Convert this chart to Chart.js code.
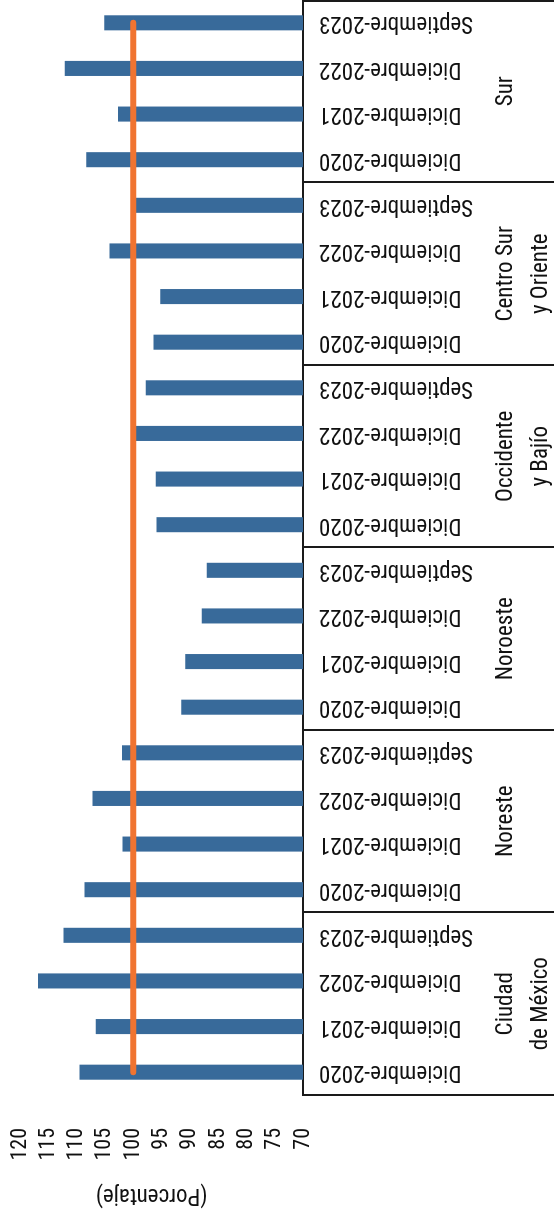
<!DOCTYPE html>
<html>
<head>
<meta charset="utf-8">
<script src="https://cdn.jsdelivr.net/npm/chart.js@4.4.0/dist/chart.umd.min.js"></script>
<style>
html,body{margin:0;padding:0;background:#fff}
#hoja{position:relative;width:554px;height:1216px;overflow:hidden;background:#fff}
#giro{position:absolute;left:0;top:0;width:1216px;height:554px;transform-origin:0 0;transform:translateY(1216px) rotate(-90deg)}
</style>
</head>
<body>
<div id="hoja"><div id="giro"><canvas id="grafico" width="1216" height="554"></canvas></div></div>
<script>

const regiones=[['Ciudad','de México'],['Noreste'],['Noroeste'],['Occidente','y Bajío'],['Centro Sur','y Oriente'],['Sur']]
const periodos=['Diciembre-2020','Diciembre-2021','Diciembre-2022','Septiembre-2023']

const cdmx=[109.5,106.6,116.8,112.3]
const noreste=[108.6,101.9,107.2,102.0]
const noroeste=[91.5,90.8,87.9,87.0]
const occidente=[95.9,96.0,99.8,97.8]
const centroSur=[96.4,95.2,104.2,99.7]
const sur=[108.3,102.7,112.1,105.1]

const referencia=100

const ejeMin=70
const ejeMax=120
const ejePaso=5
const tituloEje='(Porcentaje)'

const fuente="'Roboto Condensed','Liberation Sans Narrow',sans-serif"

let etiquetas=regiones.flatMap(()=>periodos)
let valores=[cdmx,noreste,noroeste,occidente,centroSur,sur].flat()
let lineaMeta=etiquetas.map(()=>referencia)

const grupos={
id:'grupos',
afterDraw(chart){
let ctx=chart.ctx
let x=chart.scales.x
let area=chart.chartArea
let paso=x.getPixelForValue(1)-x.getPixelForValue(0)
let n=periodos.length

ctx.save()
ctx.strokeStyle='#1a1a1a'
ctx.lineWidth=2
for(let g=0;g<=regiones.length;g++){
let px=Math.round(x.getPixelForValue(g*n)-paso/2)
px=Math.min(px,chart.width-1)
ctx.beginPath()
ctx.moveTo(px,area.bottom)
ctx.lineTo(px,chart.height)
ctx.stroke()
}

ctx.fillStyle='#111'
ctx.font='23px '+fuente
ctx.textAlign='center'
ctx.textBaseline='alphabetic'
regiones.forEach((r,g)=>{
let cx=(x.getPixelForValue(g*n)+x.getPixelForValue(g*n+n-1))/2
r.forEach((t,i)=>ctx.fillText(t,cx,512+i*35))
})

ctx.font='23px '+fuente
ctx.translate(21,(area.top+area.bottom)/2-10)
ctx.rotate(-Math.PI/2)
ctx.textBaseline='middle'
ctx.fillText(tituloEje,0,0)
ctx.restore()
}
}

new Chart(document.getElementById('grafico'),{
data:{
labels:etiquetas,
datasets:[
{
type:'line',
data:lineaMeta,
borderColor:'#f07431',
borderWidth:6,
borderCapStyle:'round',
pointRadius:0,
fill:false,
order:0
},
{
type:'bar',
data:valores,
backgroundColor:'#386a9a',
barPercentage:0.33,
categoryPercentage:1,
order:1
}
]
},
options:{
responsive:false,
animation:false,
layout:{padding:{top:20,left:0,right:0,bottom:0}},
plugins:{
legend:{display:false},
tooltip:{enabled:false}
},
scales:{
x:{
grid:{display:false,drawTicks:false},
border:{display:true,color:'#1a1a1a',width:2},
ticks:{
color:'#111',
autoSkip:false,
minRotation:90,
maxRotation:90,
padding:16,
font:{family:fuente,size:23}
},
afterFit(s){
s.height=251
s.paddingLeft=0
s.paddingRight=0
}
},
y:{
min:ejeMin,
max:ejeMax,
grid:{display:false,drawTicks:false},
border:{display:false},
ticks:{
stepSize:ejePaso,
autoSkip:false,
color:'#111',
padding:33,
font:{family:fuente,size:22,lineHeight:1}
},
afterFit(s){
s.width=121
s.paddingTop=0
s.paddingBottom=0
}
}
}
},
plugins:[grupos]
})

</script>
</body>
</html>
